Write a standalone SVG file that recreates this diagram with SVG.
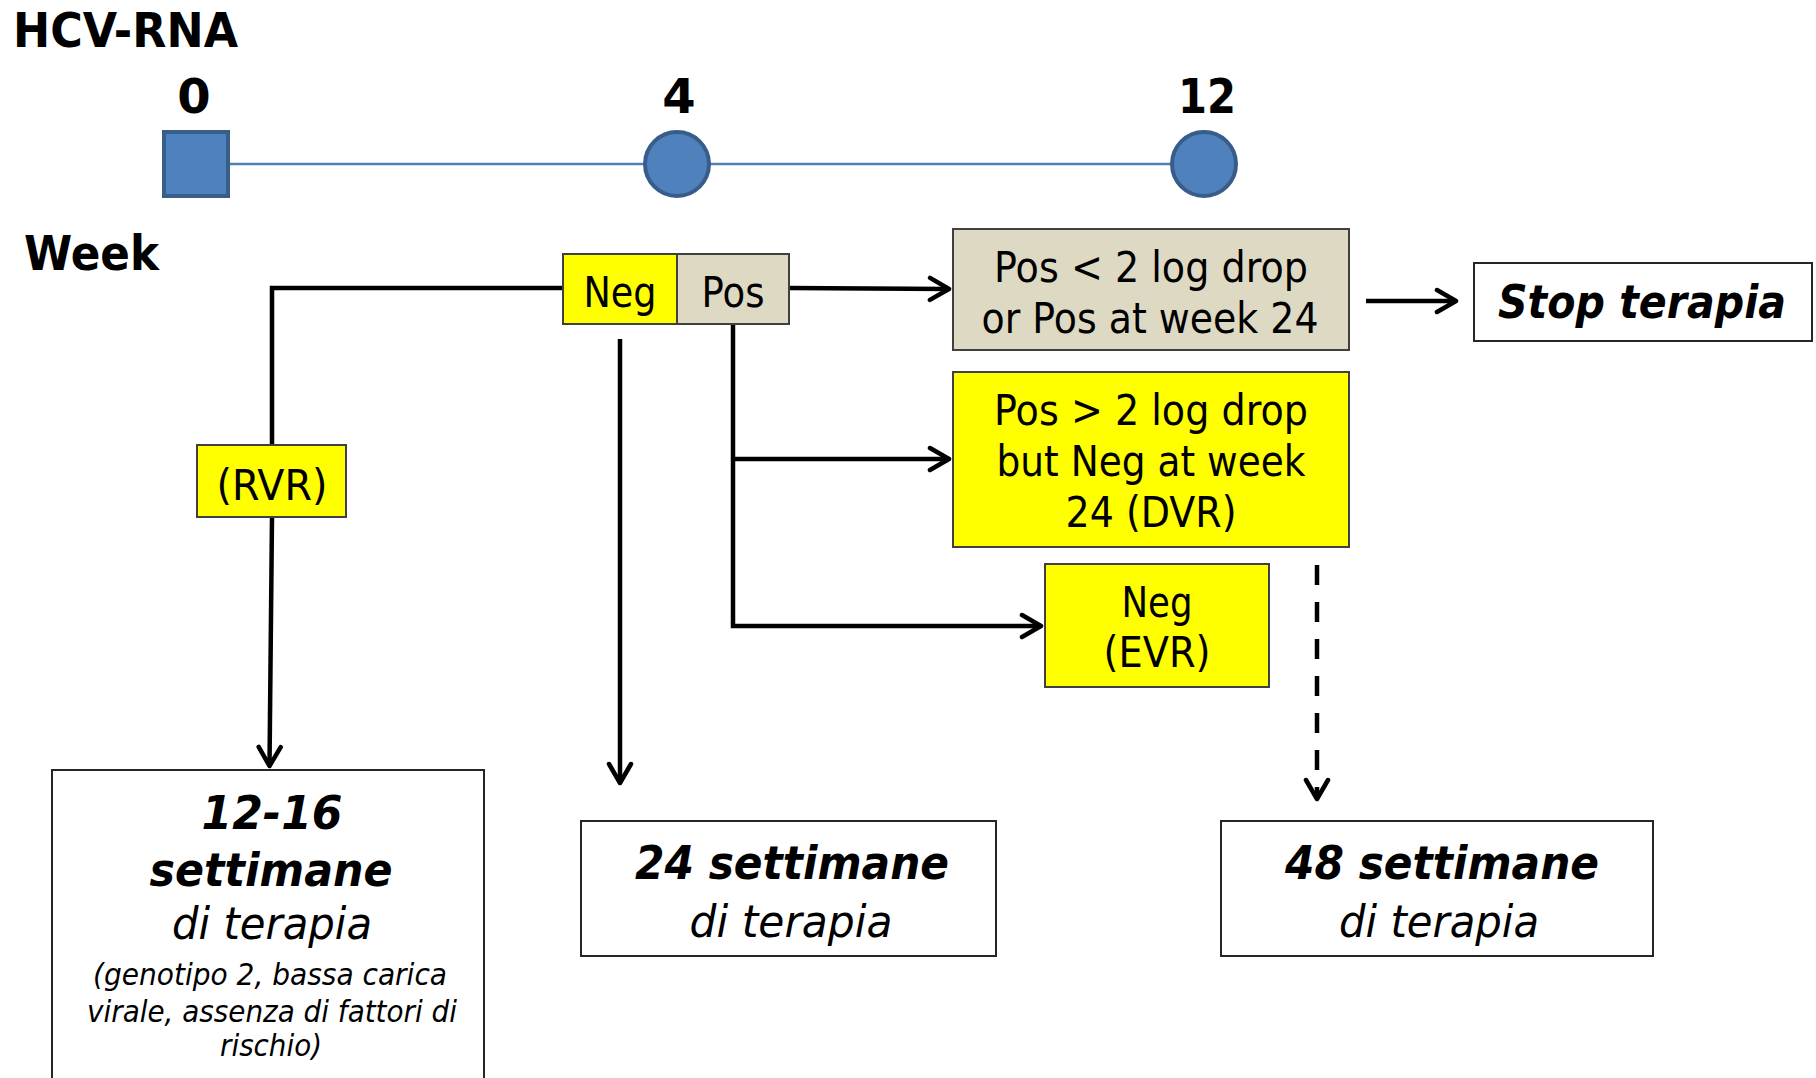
<svg xmlns="http://www.w3.org/2000/svg" width="1816" height="1078" viewBox="0 0 1816 1078">
<style>
  text { font-family: "DejaVu Sans", Verdana, "Liberation Sans", sans-serif; fill: #000; }
  .h { font-weight: bold; font-size: 48px; }
  .t { font-size: 43px; text-anchor: middle; }
  .bi { font-weight: bold; font-style: italic; font-size: 46px; text-anchor: middle; }
  .i { font-style: italic; font-size: 45px; text-anchor: middle; }
  .s { font-style: italic; font-size: 31px; text-anchor: middle; }
  .yel { fill: #FFFF00; stroke: #404040; stroke-width: 2; }
  .tan { fill: #DDD9C3; stroke: #404040; stroke-width: 2; }
  .wht { fill: #FFFFFF; stroke: #262626; stroke-width: 2; }
  .mk { fill: #4F81BD; stroke: #385D8A; stroke-width: 4; }
  .c { fill: none; stroke: #000; stroke-width: 4.5; }
</style>
<defs>
  <marker id="arr" viewBox="-24 -14 28 28" markerWidth="28" markerHeight="28" refX="0" refY="0" orient="auto" markerUnits="userSpaceOnUse">
    <path d="M-19,-11 L0,0 L-19,11" fill="none" stroke="#000" stroke-width="4.5" stroke-linecap="round" stroke-linejoin="round"/>
  </marker>
</defs>
<rect width="1816" height="1078" fill="#FFFFFF"/>

<g id="timeline">
  <line x1="229" y1="164" x2="1171" y2="164" stroke="#4F81BD" stroke-width="2.5"/>
  <text class="h" x="13" y="47" textLength="225" lengthAdjust="spacingAndGlyphs">HCV-RNA</text>
  <text class="h" x="194" y="113" text-anchor="middle">0</text>
  <text class="h" x="679" y="113" text-anchor="middle">4</text>
  <text class="h" x="1207" y="113" text-anchor="middle" textLength="58" lengthAdjust="spacingAndGlyphs">12</text>
  <text class="h" x="24" y="270" textLength="135" lengthAdjust="spacingAndGlyphs">Week</text>
</g>
<g id="week0"><rect class="mk" x="164" y="132" width="64" height="64"/></g>
<g id="week4"><circle class="mk" cx="677" cy="164" r="32"/></g>
<g id="week12"><circle class="mk" cx="1204" cy="164" r="32"/></g>

<g id="connectors">
  <path class="c" d="M563,288 H272 V445"/>
  <path class="c" d="M272,517 L269.5,766" marker-end="url(#arr)"/>
  <path class="c" d="M620,339 V783" marker-end="url(#arr)"/>
  <path class="c" d="M789,288 L949,289" marker-end="url(#arr)"/>
  <path class="c" d="M733,324 V626 H1041" marker-end="url(#arr)"/>
  <path class="c" d="M733,459 H949" marker-end="url(#arr)"/>
  <path class="c" d="M1366,301 H1456" marker-end="url(#arr)"/>
  <path class="c" d="M1317,565 V799" stroke-dasharray="20,17" marker-end="url(#arr)"/>
</g>

<g id="neg">
  <rect class="yel" x="563" y="254" width="114" height="70"/>
  <text class="t" x="620" y="307" textLength="73" lengthAdjust="spacingAndGlyphs">Neg</text>
</g>
<g id="pos">
  <rect class="tan" x="677" y="254" width="112" height="70"/>
  <text class="t" x="733" y="307" textLength="63" lengthAdjust="spacingAndGlyphs">Pos</text>
</g>
<g id="pos-lt2">
  <rect class="tan" x="953" y="229" width="396" height="121"/>
  <text class="t" x="1151" y="282" textLength="314" lengthAdjust="spacingAndGlyphs">Pos &lt; 2 log drop</text>
  <text class="t" x="1150" y="333" textLength="337" lengthAdjust="spacingAndGlyphs">or Pos at week 24</text>
</g>
<g id="stop">
  <rect class="wht" x="1474" y="263" width="338" height="78"/>
  <text class="bi" x="1642" y="318" font-size="41" textLength="288" lengthAdjust="spacingAndGlyphs">Stop terapia</text>
</g>
<g id="dvr">
  <rect class="yel" x="953" y="372" width="396" height="175"/>
  <text class="t" x="1151" y="425" textLength="314" lengthAdjust="spacingAndGlyphs">Pos &gt; 2 log drop</text>
  <text class="t" x="1151" y="476" textLength="309" lengthAdjust="spacingAndGlyphs">but Neg at week</text>
  <text class="t" x="1151" y="527" textLength="171" lengthAdjust="spacingAndGlyphs">24 (DVR)</text>
</g>
<g id="evr">
  <rect class="yel" x="1045" y="564" width="224" height="123"/>
  <text class="t" x="1157" y="617" textLength="71" lengthAdjust="spacingAndGlyphs">Neg</text>
  <text class="t" x="1157" y="667" textLength="107" lengthAdjust="spacingAndGlyphs">(EVR)</text>
</g>
<g id="rvr">
  <rect class="yel" x="197" y="445" width="149" height="72"/>
  <text class="t" x="272" y="500" textLength="111" lengthAdjust="spacingAndGlyphs">(RVR)</text>
</g>
<g id="w12-16">
  <rect class="wht" x="52" y="770" width="432" height="320"/>
  <text class="bi" x="272" y="829" font-size="48" textLength="141" lengthAdjust="spacingAndGlyphs">12-16</text>
  <text class="bi" x="271" y="886" font-size="48" textLength="243" lengthAdjust="spacingAndGlyphs">settimane</text>
  <text class="i" x="272" y="939" textLength="200" lengthAdjust="spacingAndGlyphs">di terapia</text>
  <text class="s" x="270" y="985" textLength="354" lengthAdjust="spacingAndGlyphs">(genotipo 2, bassa carica</text>
  <text class="s" x="272" y="1022" textLength="370" lengthAdjust="spacingAndGlyphs">virale, assenza di fattori di</text>
  <text class="s" x="271" y="1056" textLength="102" lengthAdjust="spacingAndGlyphs">rischio)</text>
</g>
<g id="w24">
  <rect class="wht" x="581" y="821" width="415" height="135"/>
  <text class="bi" x="792" y="879" textLength="314" lengthAdjust="spacingAndGlyphs">24 settimane</text>
  <text class="i" x="791" y="937" textLength="203" lengthAdjust="spacingAndGlyphs">di terapia</text>
</g>
<g id="w48">
  <rect class="wht" x="1221" y="821" width="432" height="135"/>
  <text class="bi" x="1442" y="879" textLength="314" lengthAdjust="spacingAndGlyphs">48 settimane</text>
  <text class="i" x="1439" y="937" textLength="200" lengthAdjust="spacingAndGlyphs">di terapia</text>
</g>
</svg>
